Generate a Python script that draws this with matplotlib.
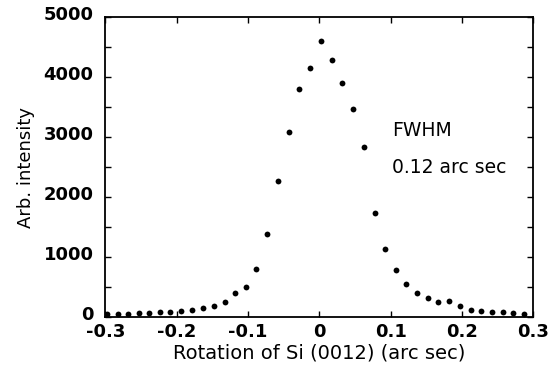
import matplotlib
matplotlib.use("Agg")
import matplotlib.pyplot as plt
from matplotlib.ticker import MultipleLocator
from matplotlib.transforms import ScaledTranslation

rotation = [-0.298, -0.283, -0.268, -0.253, -0.239, -0.224, -0.209, -0.194,
            -0.178, -0.163, -0.148, -0.133, -0.118, -0.103, -0.089, -0.073,
            -0.058, -0.043, -0.028, -0.013, 0.002, 0.017, 0.032, 0.047,
            0.062, 0.078, 0.092, 0.107, 0.122, 0.137, 0.152, 0.167, 0.182,
            0.197, 0.212, 0.227, 0.242, 0.257, 0.272, 0.287]
intensity = [40, 40, 45, 57, 62, 74, 84, 100, 117, 140, 184, 246, 401, 491,
             797, 1387, 2263, 3092, 3805, 4151, 4607, 4290, 3905, 3471, 2836,
             1738, 1136, 780, 551, 396, 318, 241, 267, 179, 117, 95, 84, 74,
             62, 50]
xticks = [-0.3, -0.2, -0.1, 0, 0.1, 0.2, 0.3]
xticklabels = ["-0.3", "-0.2", "-0.1", "0", "0.1", "0.2", "0.3"]
yticks = [0, 1000, 2000, 3000, 4000, 5000]
yticklabels = ["0", "1000", "2000", "3000", "4000", "5000"]

plt.rcParams['font.family'] = ['DejaVu Sans']

fig = plt.figure(figsize=(5.59, 3.71), dpi=100)
ax = fig.add_axes([0.1887, 0.1464, 0.7653, 0.8065])

ax.plot(rotation, intensity, 'o', color='black', markersize=4.2, markeredgewidth=0)

ax.set_xlim(-0.3, 0.3)
ax.set_ylim(0, 5000)
ax.set_xticks(xticks)
ax.set_xticklabels(xticklabels, fontsize=13, fontweight='bold')
ax.set_yticks(yticks)
ax.set_yticklabels(yticklabels, fontsize=13, fontweight='bold')
ax.yaxis.set_minor_locator(MultipleLocator(500))

ax.tick_params(axis='both', which='both', direction='in', top=True, right=True,
               length=4.5, width=1.0)
ax.tick_params(axis='x', pad=4.5)
ax.tick_params(axis='y', pad=8.5)
for s in ax.spines.values():
    s.set_linewidth(1.3)

# y tick labels sit slightly above their ticks in the reference
offset = ScaledTranslation(0, 0.04, fig.dpi_scale_trans)
for lab in ax.get_yticklabels():
    lab.set_transform(lab.get_transform() + offset)

ax.set_xlabel("Rotation of Si (0012) (arc sec)", fontsize=14, labelpad=2)
ax.set_ylabel("Arb. intensity", fontsize=13, labelpad=6)

ax.text(0.1015, 3103, "FWHM", fontsize=13.5, va='center', ha='left')
ax.text(0.1015, 2485, "0.12 arc sec", fontsize=13.5, va='center', ha='left')

fig.savefig("out.png", dpi=100)
